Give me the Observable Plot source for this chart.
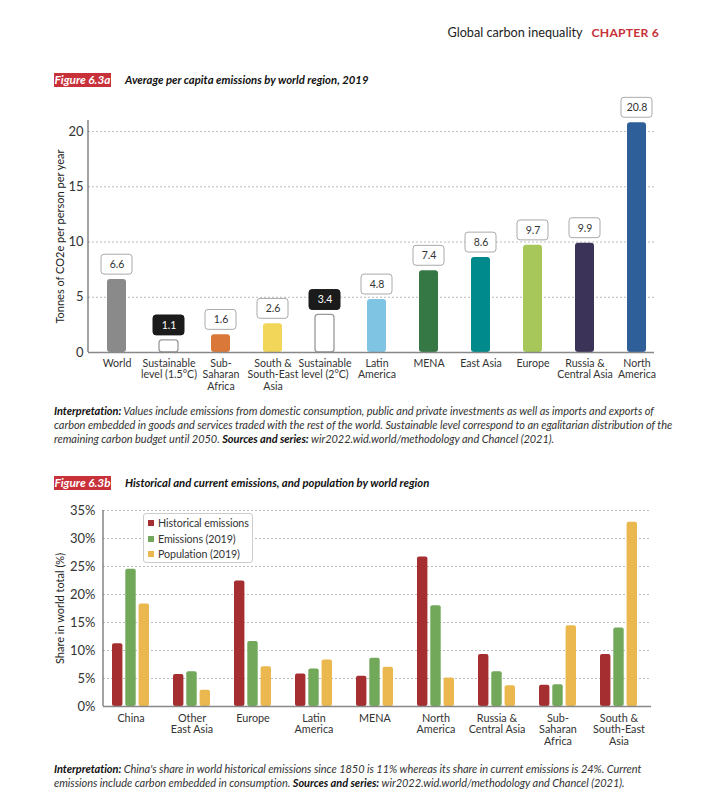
<!DOCTYPE html>
<html><head><meta charset="utf-8">
<script src="https://cdn.jsdelivr.net/npm/d3@7"></script>
<script src="https://cdn.jsdelivr.net/npm/@observablehq/plot@0.6"></script>
<style>
body{margin:0;background:#fff;font-family:Lato,"Open Sans",sans-serif;}
#page{position:relative;width:719px;height:800px;overflow:hidden;background:#fff;}
.abs{position:absolute;}
.hdr{top:23px;right:60px;font-size:12.7px;line-height:18px;color:#222;white-space:nowrap;}
.hdr b{color:#c8313a;margin-left:9px;font-size:12.2px;letter-spacing:0.2px;}
.fig{left:54px;font-size:11.3px;line-height:14px;white-space:nowrap;font-style:italic;font-weight:700;color:#111;}
.fig .tag{display:inline-block;background:#c8313a;color:#fff;width:57px;text-align:center;margin-right:14px;font-size:11.8px;}
.interp{left:54px;font-size:11px;letter-spacing:-0.05px;line-height:14px;font-style:italic;color:#333;white-space:nowrap;}
.interp b{font-weight:700;color:#111;}
.legend{left:143px;top:513px;width:108px;height:48px;border:1px solid #ccc;border-radius:3px;background:#fff;font-size:10.7px;letter-spacing:-0.1px;color:#333;}
.legend div{position:absolute;left:4px;height:14px;line-height:14px;white-space:nowrap;}
.legend span{display:inline-block;width:6px;height:6px;margin-right:4px;vertical-align:1px;}
</style></head>
<body>
<div id="page">
  <div class="abs hdr">Global carbon inequality<b>CHAPTER 6</b></div>
  <div class="abs fig" style="top:73px"><span class="tag">Figure 6.3a</span>Average per capita emissions by world region, 2019</div>
  <div id="chartA" class="abs" style="left:0;top:95px"></div>
  <div class="abs interp" style="top:404px"><b>Interpretation:</b> Values include emissions from domestic consumption, public and private investments as well as imports and exports of<br>carbon embedded in goods and services traded with the rest of the world. Sustainable level correspond to an egalitarian distribution of the<br>remaining carbon budget until 2050. <b>Sources and series:</b> wir2022.wid.world/methodology and Chancel (2021).</div>
  <div class="abs fig" style="top:476px"><span class="tag">Figure 6.3b</span>Historical and current emissions, and population by world region</div>
  <div id="chartB" class="abs" style="left:0;top:495px"></div>
  <div id="legendB" class="abs legend"></div>
  <div class="abs interp" style="top:762px"><b>Interpretation:</b> China's share in world historical emissions since 1850 is 11% whereas its share in current emissions is 24%. Current<br>emissions include carbon embedded in consumption. <b>Sources and series:</b> wir2022.wid.world/methodology and Chancel (2021).</div>
</div>
<script>
// ---------- Data: Figure 6.3a ----------
const regionsA = ["World","Sustainable level (1.5°C)","Sub-Saharan Africa","South & South-East Asia","Sustainable level (2°C)","Latin America","MENA","East Asia","Europe","Russia & Central Asia","North America"];
const tickLabelsA = ["World","Sustainable\nlevel (1.5°C)","Sub-\nSaharan\nAfrica","South &\nSouth-East\nAsia","Sustainable\nlevel (2°C)","Latin\nAmerica","MENA","East Asia","Europe","Russia &\nCentral Asia","North\nAmerica"];
const valuesA = [6.6, 1.1, 1.6, 2.6, 3.4, 4.8, 7.4, 8.6, 9.7, 9.9, 20.8];
const isTargetA = [false, true, false, false, true, false, false, false, false, false, false];
const colorsA = ["#8a8a8a","#ffffff","#d97838","#f2d65a","#ffffff","#80c4e4","#367845","#008a8c","#a7c75a","#3c3358","#2e5f98"];
const yTicksA = [0, 5, 10, 15, 20];

// ---------- Data: Figure 6.3b ----------
const regionsB = ["China","Other East Asia","Europe","Latin America","MENA","North America","Russia & Central Asia","Sub-Saharan Africa","South & South-East Asia"];
const tickLabelsB = ["China","Other\nEast Asia","Europe","Latin\nAmerica","MENA","North\nAmerica","Russia &\nCentral Asia","Sub-\nSaharan\nAfrica","South &\nSouth-East\nAsia"];
const historical = [11.2, 5.7, 22.4, 5.8, 5.4, 26.7, 9.3, 3.8, 9.3];
const emissions2019 = [24.5, 6.2, 11.6, 6.7, 8.6, 18.0, 6.2, 3.9, 14.0];
const population2019 = [18.3, 2.9, 7.1, 8.3, 7.0, 5.1, 3.7, 14.4, 32.9];
const seriesB = ["Historical emissions","Emissions (2019)","Population (2019)"];
const seriesColorsB = ["#a52f30","#72a85a","#ebb84f"];
const yTicksB = [0, 5, 10, 15, 20, 25, 30, 35];

const FONT = "Lato, 'Open Sans', sans-serif";

function leftLine(color) {
  return (index, scales, values, dims) => {
    const l = document.createElementNS("http://www.w3.org/2000/svg", "line");
    l.setAttribute("x1", dims.marginLeft); l.setAttribute("x2", dims.marginLeft);
    l.setAttribute("y1", dims.marginTop); l.setAttribute("y2", dims.height - dims.marginBottom);
    l.setAttribute("stroke", color); l.setAttribute("stroke-width", 1.2);
    return l;
  };
}

// ---------- Chart A ----------
const dataA = regionsA.map((r, i) => ({region: r, value: valuesA[i], target: isTargetA[i], color: colorsA[i]}));
const labelMapA = new Map(regionsA.map((r, i) => [r, tickLabelsA[i]]));

const chartA = Plot.plot({
  width: 719, height: 305,
  marginLeft: 88, marginRight: 65, marginTop: 25, marginBottom: 48,
  style: {fontFamily: FONT, color: "#333", background: "transparent", overflow: "visible"},
  x: {domain: regionsA, paddingInner: 0.635, paddingOuter: 0, insetLeft: 13.7, insetRight: 3, axis: null},
  y: {domain: [0, 21], axis: null},
  color: {type: "identity"},
  marks: [
    Plot.gridY(yTicksA.filter(d => d > 0), {stroke: "#bbb", strokeOpacity: 1, strokeDasharray: "2,2"}),
    Plot.axisY(yTicksA, {tickSize: 0, tickPadding: 5, fontSize: 13, label: null}),
    Plot.text(["Tonnes of CO2e per person per year"], {frameAnchor: "left", textAnchor: "middle", rotate: -90, dx: -28, fontSize: 11, fill: "#222"}),
    Plot.axisX({tickSize: 0, tickPadding: 6, fontSize: 10.6, lineHeight: 1.1, tickFormat: d => labelMapA.get(d), label: null}),
    Plot.barY(dataA.filter(d => !d.target), {x: "region", y: "value", fill: "color", rx: 3}),
    Plot.barY(dataA.filter(d => d.target), {x: "region", y: "value", fill: "#fff", stroke: "#999", strokeWidth: 1.3, rx: 3}),
    Plot.ruleY([0], {stroke: "#888", strokeWidth: 1.5}),
    leftLine("#666"),
    Plot.barY(dataA, {x: "region", y1: d => d.value + 0.45, y2: d => d.value + 2.25,
      fill: d => d.target ? "#1b1b1b" : "#fff", stroke: d => d.target ? "#1b1b1b" : "#aaa",
      strokeWidth: 1, insetLeft: -6, insetRight: -6, rx: 3}),
    Plot.text(dataA, {x: "region", y: d => d.value + 1.35, text: d => d.value.toFixed(1),
      fill: d => d.target ? "#fff" : "#333", fontSize: 10.5})
  ]
});
document.getElementById("chartA").append(chartA);

// ---------- Chart B ----------
const dataB = regionsB.map((r, i) => ({region: r, h: historical[i], e: emissions2019[i], p: population2019[i]}));
const labelMapB = new Map(regionsB.map((r, i) => [r, tickLabelsB[i]]));
const seriesKeys = ["h", "e", "p"];
const insets = [[0, 26.6], [13.3, 13.3], [26.6, 0]];

const chartB = Plot.plot({
  width: 719, height: 265,
  marginLeft: 103, marginRight: 68, marginTop: 15, marginBottom: 54,
  style: {fontFamily: FONT, color: "#333", background: "transparent", overflow: "visible"},
  x: {domain: regionsB, paddingInner: 0.39, paddingOuter: 0, insetLeft: 7.7, insetRight: 13.4, axis: null},
  y: {domain: [0, 35], axis: null},
  marks: [
    Plot.gridY(yTicksB.filter(d => d > 0), {stroke: "#bbb", strokeOpacity: 1, strokeDasharray: "2,2"}),
    Plot.axisY(yTicksB, {tickSize: 0, tickPadding: 8, fontSize: 13, tickFormat: d => d + "%", label: null}),
    Plot.text(["Share in world total (%)"], {frameAnchor: "left", textAnchor: "middle", rotate: -90, dx: -43, fontSize: 11, fill: "#222"}),
    Plot.axisX({tickSize: 0, tickPadding: 7, fontSize: 10.8, lineHeight: 1.07, tickFormat: d => labelMapB.get(d), label: null}),
    ...seriesKeys.map((k, i) => Plot.barY(dataB, {x: "region", y: k, fill: seriesColorsB[i],
      insetLeft: insets[i][0], insetRight: insets[i][1], rx: 2})),
    Plot.ruleY([0], {stroke: "#888", strokeWidth: 1.5}),
    leftLine("#666")
  ]
});
document.getElementById("chartB").append(chartB);

// ---------- Legend B ----------
const legend = document.getElementById("legendB");
seriesB.forEach((s, i) => {
  const row = document.createElement("div");
  row.style.top = (2 + i * 15.5) + "px";
  row.innerHTML = `<span style="background:${seriesColorsB[i]}"></span>${s}`;
  legend.append(row);
});
</script>
</body></html>
